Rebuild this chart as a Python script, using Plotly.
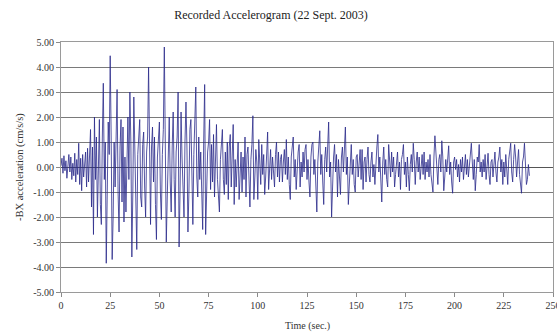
import plotly.graph_objects as go

# Sampling step (s) of the digitised record
dt = 0.5

# -BX acceleration (cm/s/s), one row per 10 s
accel = [
    # 0 - 9.5 s
    0.05, 0.35, -0.25, 0.45, -0.15, 0.25, -0.45, 0.1, 0.5, -0.2, 0.4, -0.5, 0.15, -0.35, 0.55, -0.6, 0.3, -0.3, 0.95, -0.7,
    # 10 - 19.5 s
    0.35, -0.95, 0.5, -0.4, 0.2, 0.6, -0.8, 0.75, -0.6, 0.4, 1.5, -1.6, 0.8, -2.7, 2.0, -0.5, 1.2, -2.0, 0.6, 1.9,
    # 20 - 29.5 s
    -1.5, -2.3, 1.2, 3.35, -0.5, 1.0, -3.85, -1.5, 1.8, 0.5, 4.45, 1.2, -3.7, -2.0, 1.0, -0.8, 1.5, 3.1, -1.0, -2.6,
    # 30 - 39.5 s
    0.8, 1.9, -1.4, 1.6, -2.2, 0.4, -1.8, 1.0, 2.0, -0.5, 3.0, 1.0, -3.6, -1.0, 2.8, 0.8, -1.5, -3.3, 0.5, 1.3,
    # 40 - 49.5 s
    1.9, -1.2, -1.6, 0.9, 1.4, -0.8, -2.0, 0.6, 1.2, 4.0, -0.5, -2.3, 0.8, 1.6, -0.6, 1.2, -1.5, -2.9, 0.4, 1.3,
    # 50 - 59.5 s
    1.8, -1.0, -2.1, 0.5, 1.5, 4.8, 1.0, -3.0, -1.2, 1.2, 2.0, -0.6, -1.8, 0.8, 2.2, -0.5, -2.0, 0.6, 1.2, 3.0,
    # 60 - 69.5 s
    -3.2, -1.0, 2.2, 0.4, -1.5, -2.0, 1.0, 2.6, 0.8, -2.6, -1.0, 1.5, 1.9, -0.8, -2.3, 0.5, 1.5, 3.2, -0.4, -1.2,
    # 70 - 79.5 s
    1.2, -0.5, 0.6, -1.6, -2.5, 1.0, 3.3, -2.7, -1.0, 0.6, 1.0, 1.9, -0.9, 0.9, -0.6, 1.3, -1.2, 0.5, 1.7, -0.5,
    # 80 - 89.5 s
    -1.2, -1.8, 0.3, 0.9, 1.5, -0.5, -1.1, 0.6, -0.7, 1.0, -1.3, 0.8, 1.3, -0.8, 0.4, 1.7, -1.5, 0.3, -0.8, 0.6,
    # 90 - 99.5 s
    1.0, -1.3, 0.2, 0.6, -1.0, 0.4, -0.5, 1.2, -1.2, 0.5, 0.8, -0.6, -1.6, 0.3, 0.9, 2.05, -1.3, -0.4, 0.7, 0.2,
    # 100 - 109.5 s
    -1.3, 1.1, 0.3, -0.7, 0.9, -0.3, 0.5, -1.1, -0.4, 0.6, 1.4, -0.9, 0.2, 0.7, -0.5, 0.4, -0.2, -0.8, 0.5, 1.0,
    # 110 - 119.5 s
    -0.4, 0.6, -0.6, 0.3, 0.5, -0.6, 0.2, 0.7, -0.3, 1.1, -0.5, 0.4, -0.7, -1.3, 0.4, 0.7, 1.2, -0.4, 0.3, -0.9,
    # 120 - 129.5 s
    0.1, 0.6, 0.9, -0.8, 0.2, -0.4, 0.6, -0.2, 0.7, 0.9, -0.5, 0.3, -0.6, -1.2, 0.4, 0.9, 1.0, -0.3, 0.3, -1.0,
    # 130 - 139.5 s
    -1.8, 0.2, 0.8, 1.45, -0.3, 0.5, -0.6, -1.5, 0.3, 0.8, -0.2, 1.1, 1.8, -0.4, 0.2, -2.0, -0.6, 0.4, 0.9, -0.2,
    # 140 - 149.5 s
    0.5, -1.2, 0.3, -0.5, -1.1, 0.4, 0.8, -0.2, 1.0, 1.6, -0.3, 0.4, -1.5, -0.5, 0.4, 0.9, -0.3, 0.3, -0.7, -1.0,
    # 150 - 159.5 s
    0.4, 0.5, -0.4, 0.2, 0.7, -0.5, 0.7, -0.9, 0.2, 0.4, -0.6, 0.3, 0.8, -0.3, -0.6, 0.2, 0.6, -0.4, 0.1, -0.7,
    # 160 - 169.5 s
    0.4, 0.8, 1.3, -0.2, 0.4, -0.6, -1.4, 0.2, 0.8, -0.3, 0.3, -0.5, -0.8, 0.9, 0.2, -0.4, 0.6, -0.2, 0.4, -0.8,
    # 170 - 179.5 s
    -0.3, 0.3, 0.6, -0.4, 0.2, -0.9, 0.3, 0.5, 0.9, -0.3, 0.2, -0.8, 0.4, -0.3, -0.95, 0.1, 0.5, -0.2, 0.95, 0.3,
    # 180 - 189.5 s
    -0.7, 0.2, 0.6, -0.2, 0.4, -0.5, 0.1, 0.5, -0.3, 0.6, -0.5, 0.2, -0.2, 0.3, -0.4, 0.5, -0.3, -0.8, -1.0, 0.4,
    # 190 - 199.5 s
    1.25, 0.6, -0.3, -0.7, 0.3, 0.5, -0.2, 1.05, 0.4, -0.95, -0.4, 0.3, -0.2, 0.5, 0.85, -0.3, 0.2, -0.6, -1.05, 0.2,
    # 200 - 209.5 s
    0.4, -0.1, 0.3, -0.4, 0.1, -0.6, 0.3, -0.2, 0.4, -0.5, 0.2, 0.5, -0.3, 0.3, -0.4, 0.2, 0.6, 0.95, 0.2, -0.5,
    # 210 - 219.5 s
    0.3, -0.95, -0.3, 0.4, 0.2, 0.9, -0.2, 0.2, -0.4, 0.3, -0.2, 0.5, -0.5, 0.2, 0.55, -0.3, -0.7, 0.2, 0.3, -0.4,
    # 220 - 229.5 s
    0.3, 0.6, -0.2, -0.6, 0.2, 0.4, 0.8, -0.2, 0.3, -0.7, 0.2, -0.4, 0.5, -0.3, -0.7, 0.3, 0.6, 0.95, -0.2, -0.6,
    # 230 - 238 s
    0.3, 0.9, 0.4, -0.4, 0.2, 0.7, -0.3, -0.7, -1.05, 0.2, 0.4, 0.95, 0.3, -0.7, -0.5, 0.1, -0.35,
]
time = [i * dt for i in range(len(accel))]

x_ticks = [0, 25, 50, 75, 100, 125, 150, 175, 200, 225, 250]
y_ticks = [-5, -4, -3, -2, -1, 0, 1, 2, 3, 4, 5]

title_text = "Recorded Accelerogram (22 Sept. 2003)"
x_title = "Time (sec.)"
y_title = "-BX acceleration (cm/s/s)"

FONT = "Liberation Serif, Times New Roman, serif"

fig = go.Figure()
fig.add_trace(go.Scatter(
    x=time, y=accel, mode="lines",
    line=dict(color="#2a2a8a", width=0.8),
    showlegend=False, hoverinfo="skip", cliponaxis=False,
))

fig.update_layout(
    width=557, height=333,
    margin=dict(l=61, r=4, t=42, b=41, autoexpand=False),
    paper_bgcolor="white", plot_bgcolor="white",
    font=dict(family=FONT, size=10, color="#333333"),
    title=dict(text=title_text, x=271 / 557, xanchor="center", xref="container",
               y=1 - 15 / 333, yanchor="middle", yref="container",
               font=dict(family=FONT, size=12, color="#222222")),
    annotations=[
        dict(text=x_title, xref="paper", yref="paper", x=0.5, y=0, yshift=-34,
             xanchor="center", yanchor="middle", showarrow=False,
             font=dict(family=FONT, size=10, color="#333333")),
        dict(text=y_title, xref="paper", yref="paper", x=0, xshift=-41, y=0.5,
             xanchor="center", yanchor="middle", textangle=-90, showarrow=False,
             font=dict(family=FONT, size=10.5, color="#333333")),
    ],
)
fig.update_xaxes(
    range=[0, 250], tickvals=x_ticks, ticktext=[str(v) for v in x_ticks],
    showgrid=False, zeroline=False, ticklabeloverflow="allow", automargin=False,
    showline=True, linecolor="#9a9a9a", linewidth=1, mirror=True,
    ticks="outside", ticklen=4, tickcolor="#8a8a8a",
)
fig.update_yaxes(
    range=[-5, 5], tickvals=y_ticks, ticktext=[f"{v:.2f}" for v in y_ticks],
    showgrid=True, gridcolor="#7a7a7a", gridwidth=1, automargin=False,
    zeroline=True, zerolinecolor="#555555", zerolinewidth=1,
    showline=True, linecolor="#9a9a9a", linewidth=1, mirror=True,
    ticks="outside", ticklen=4, tickcolor="#8a8a8a",
)

fig.write_html(
    "out.html",
    config={"displayModeBar": False},
    post_script="document.body.style.margin='0';document.body.style.overflow='hidden';",
)
